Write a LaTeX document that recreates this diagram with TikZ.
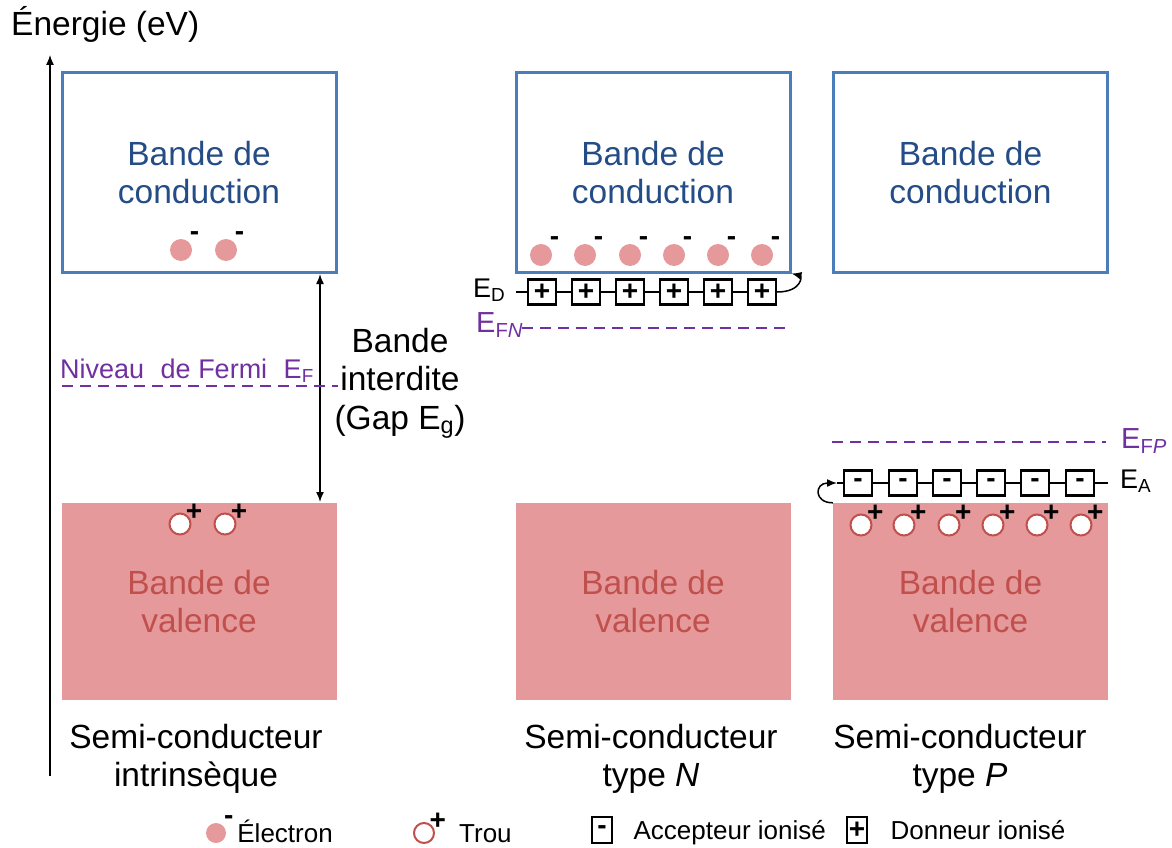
\documentclass[tikz,border=0pt]{standalone}
\usepackage{fontspec}
\setmainfont{Liberation Sans}
\usetikzlibrary{positioning,arrows.meta}

\definecolor{bandblue}{RGB}{74,126,187}
\definecolor{textblue}{RGB}{36,76,134}
\definecolor{bandpink}{RGB}{230,153,154}
\definecolor{textred}{RGB}{192,80,77}
\definecolor{fermipurple}{RGB}{112,48,160}

\newcommand{\bandfont}{\fontsize{33.5}{38.5}\selectfont}
\newcommand{\levelfont}{\fontsize{27}{30}\selectfont}
\newcommand{\fermifont}{\fontsize{29}{32}\selectfont}
\newcommand{\signfont}{\fontsize{28}{28}\bfseries\selectfont}
\newcommand{\legfont}{\fontsize{26}{30}\selectfont}

\begin{document}
\begin{tikzpicture}[x=1pt,y=-1pt]
\tikzstyle{cband}=[rectangle, draw=bandblue, line width=3pt, minimum width=274pt, minimum height=199pt, inner sep=0pt, text=textblue, align=center, font=\bandfont]
\tikzstyle{vband}=[rectangle, fill=bandpink, minimum width=275pt, minimum height=197pt, inner sep=0pt, text=textred, align=center, font=\bandfont]
\tikzstyle{sign}=[font=\signfont, inner sep=0pt, text=black]
\tikzstyle{electron}=[circle, fill=bandpink, minimum size=22pt, inner sep=0pt, label={[sign, anchor=center, label distance=8pt]45:-}]
\tikzstyle{hole}=[circle, draw=textred, line width=2pt, fill=white, minimum size=21pt, inner sep=0pt, label={[sign, anchor=center, label distance=7pt]40:+}]
\tikzstyle{ion}=[rectangle, draw=black, line width=2.8pt, fill=white, minimum width=28pt, minimum height=25pt, inner sep=0pt, font=\signfont]
\tikzstyle{legion}=[ion, minimum width=20pt, minimum height=26pt]
\tikzstyle{fermi}=[fermipurple, line width=1.3pt, dash pattern=on 11pt off 7pt]
\tikzstyle{connect}=[-{Latex[length=10pt,width=8pt]}, line width=1.5pt]
\tikzstyle{caption}=[align=center, font=\bandfont]
\tikzstyle{legtext}=[font=\legfont, inner sep=0pt, text height=18pt, text depth=0pt, anchor=west]
\useasboundingbox (0,0) rectangle (1172,848);

  % energy axis
  \node[anchor=base west, font=\bandfont, inner sep=0pt] (energie) at (11,36) {Énergie (eV)};
  \coordinate (axbot) at (50,776);
  \coordinate (axtop) at (50,55);
  \draw[connect, line width=1.3pt] (axbot) -- (axtop);

  % intrinsic
  \node[cband] (ci) at (199,172.5) {Bande de\\conduction};
  \node[vband] (vi) at (199,601.5) {Bande de\\valence};
  \foreach \x in {181,226} \node[electron] at (\x,250) {};
  \foreach \x in {180,225} \node[hole] at (\x,524) {};
  \coordinate (gtop) at (320,274);
  \coordinate (gbot) at (320,502);
  \draw[connect, {Latex[length=10pt,width=8pt]}-{Latex[length=10pt,width=8pt]}] (gtop) -- (gbot);
  \node[caption] (gap) at (400,383) {Bande\\interdite\\(Gap E\textsubscript{g})};
  \coordinate (efil) at (62,386);
  \coordinate (efir) at (338,386);
  \draw[fermi] (efil) -- (efir);
  \node[anchor=base west, inner sep=0pt, text=fermipurple, font=\fontsize{27}{30}\selectfont] (efi) at (60,378) {Niveau\,\, de Fermi\,\, E\textsubscript{F}};
  \node[caption] (si) at (196,759) {Semi-conducteur\\intrinsèque};

  % type N
  \node[cband] (cn) at (653,172.5) {Bande de\\conduction};
  \node[vband] (vn) at (653,601.5) {Bande de\\valence};
  \foreach \x in {541,585,630,674,718,762} \node[electron] at (\x,255) {};
  \coordinate (edl) at (516,292);
  \coordinate (edr) at (777,292);
  \draw[line width=2pt] (edl) -- (edr);
  \foreach \x in {542,586,630,674,718,762} \node[ion] at (\x,292) {+};
  \draw[connect] (edr) .. controls (802,292) and (802,276) .. (cn.south east);
  \node[anchor=base west, inner sep=0pt, font=\levelfont] (ed) at (473,297) {E\textsubscript{D}};
  \node[anchor=base west, inner sep=0pt, text=fermipurple, font=\fermifont] (efn) at (476,332) {E\textsubscript{F\textit{N}}};
  \coordinate (efnl) at (522,328);
  \coordinate (efnr) at (790,328);
  \draw[fermi] (efnl) -- (efnr);
  \node[caption] (sn) at (651,759) {Semi-conducteur\\type \textit{N}};

  % type P
  \node[cband] (cp) at (970.5,172.5) {Bande de\\conduction};
  \node[vband] (vp) at (970.5,601.5) {Bande de\\valence};
  \foreach \x in {861,904,949,993,1037,1081} \node[hole] at (\x,525) {};
  \coordinate (eal) at (837,483);
  \coordinate (ear) at (1108,483);
  \draw[line width=2pt] (eal) -- (ear);
  \foreach \x in {858,903,947,991,1035,1080} \node[ion] at (\x,483) {-};
  \draw[connect] (vp.north west) .. controls (814,503) and (814,483) .. (eal);
  \node[anchor=base west, inner sep=0pt, font=\levelfont] (ea) at (1120,488) {E\textsubscript{A}};
  \coordinate (efpl) at (832,442);
  \coordinate (efpr) at (1106,442);
  \draw[fermi] (efpl) -- (efpr);
  \node[anchor=base west, inner sep=0pt, text=fermipurple, font=\fermifont] (efp) at (1121,448) {E\textsubscript{F\textit{P}}};
  \node[caption] (sp) at (960,759) {Semi-conducteur\\type \textit{P}};

  % legend
  \node[electron, minimum size=20pt] (lel) at (216,833) {};
  \node[legtext, right=11pt of lel] (tel) {Électron};
  \node[hole, minimum size=20pt] (lho) at (424,833) {};
  \node[legtext, right=24pt of lho] (tho) {Trou};
  \node[legion] (lac) at (602,830) {-};
  \node[legtext, right=20pt of lac] (tac) {Accepteur ionisé};
  \node[legion] (ldo) at (857,830) {+};
  \node[legtext, right=22pt of ldo] (tdo) {Donneur ionisé};
\end{tikzpicture}
\end{document}
